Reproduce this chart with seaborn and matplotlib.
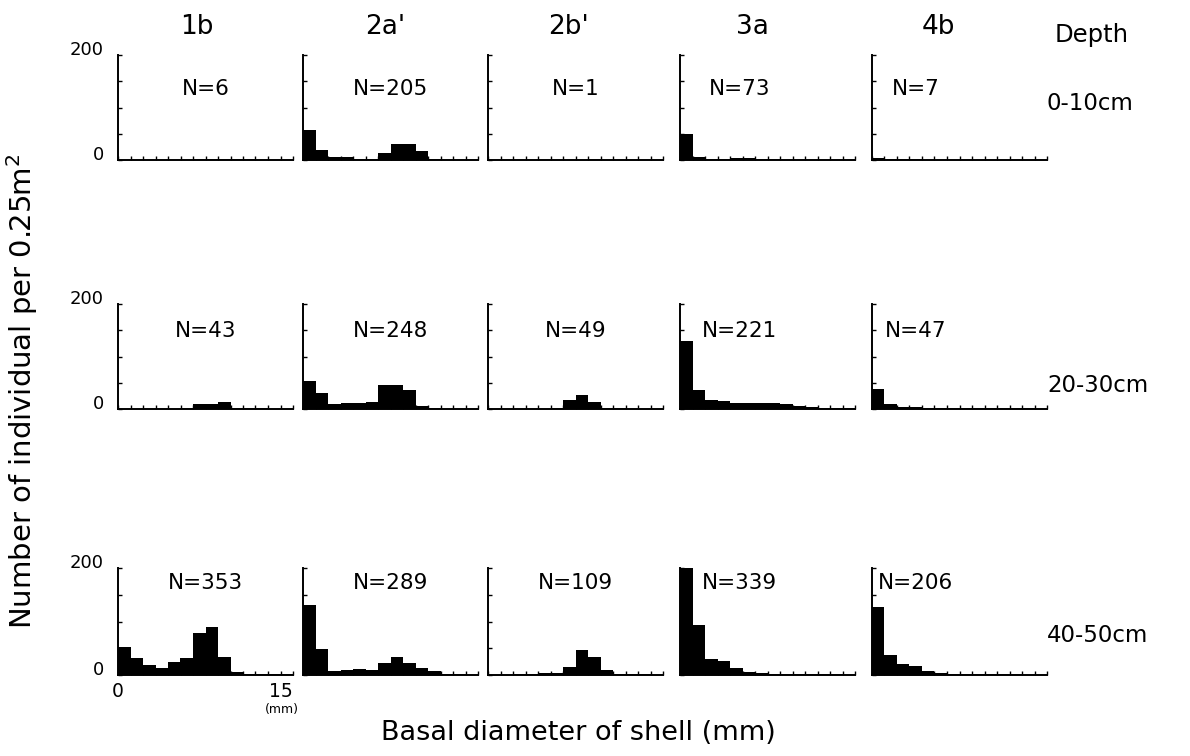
import numpy as np
import pandas as pd
import matplotlib
matplotlib.use("Agg")
import matplotlib.pyplot as plt
import seaborn as sns

# ---------------- data ----------------
sites = ["1b", "2a'", "2b'", "3a", "4b"]
depths = ["0-10cm", "20-30cm", "40-50cm"]
size_min, size_max, n_bins = 0, 15, 14   # basal diameter classes (mm)

n_0_10 = [6, 205, 1, 73, 7]
n_20_30 = [43, 248, 49, 221, 47]
n_40_50 = [353, 289, 109, 339, 206]

# individuals per 0.25 m2 in each size class
counts_0_10_1b = [0, 0, 0, 0, 0, 0, 1, 1, 1, 2, 1, 0, 0, 0]
counts_0_10_2a = [58, 19, 5, 5, 1, 1, 14, 31, 30, 18, 2, 0, 0, 0]
counts_0_10_2b = [0, 0, 0, 0, 0, 0, 0, 0, 1, 0, 0, 0, 0, 0]
counts_0_10_3a = [50, 5, 2, 2, 3, 3, 1, 1, 0, 0, 0, 0, 0, 0]
counts_0_10_4b = [3, 1, 1, 1, 0, 0, 0, 0, 0, 0, 0, 0, 0, 0]

counts_20_30_1b = [0, 0, 0, 0, 0, 1, 10, 10, 14, 2, 1, 1, 0, 0]
counts_20_30_2a = [53, 31, 10, 12, 12, 13, 45, 45, 37, 6, 1, 0, 0, 0]
counts_20_30_2b = [0, 0, 0, 0, 0, 2, 17, 27, 13, 1, 1, 0, 0, 0]
counts_20_30_3a = [130, 37, 17, 15, 11, 12, 12, 12, 9, 5, 3, 2, 2, 1]
counts_20_30_4b = [38, 9, 3, 3, 2, 2, 2, 1, 1, 1, 1, 1, 1, 0]

counts_40_50_1b = [52, 31, 18, 14, 25, 32, 79, 90, 33, 5, 2, 2, 2, 1]
counts_40_50_2a = [130, 48, 8, 9, 11, 9, 23, 33, 23, 14, 7, 2, 1, 0]
counts_40_50_2b = [0, 0, 1, 1, 4, 4, 15, 47, 34, 10, 2, 1, 1, 0]
counts_40_50_3a = [205, 94, 30, 26, 14, 5, 3, 2, 2, 1, 1, 1, 1, 0]
counts_40_50_4b = [128, 38, 20, 17, 8, 3, 2, 2, 1, 1, 1, 1, 0, 0]

rows = [
    (n_0_10, [counts_0_10_1b, counts_0_10_2a, counts_0_10_2b, counts_0_10_3a, counts_0_10_4b]),
    (n_20_30, [counts_20_30_1b, counts_20_30_2a, counts_20_30_2b, counts_20_30_3a, counts_20_30_4b]),
    (n_40_50, [counts_40_50_1b, counts_40_50_2a, counts_40_50_2b, counts_40_50_3a, counts_40_50_4b]),
]

# ---------------- style ----------------
sns.set_style("white")
plt.rcParams["font.family"] = ["DejaVu Sans"]
plt.rcParams["text.color"] = "black"
plt.rcParams["xtick.color"] = "black"
plt.rcParams["ytick.color"] = "black"
plt.rcParams["xtick.direction"] = "in"
plt.rcParams["ytick.direction"] = "in"

W, H = 1190, 756
fig = plt.figure(figsize=(W / 100, H / 100), dpi=100)

bin_w = (size_max - size_min) / n_bins
edges = np.linspace(size_min, size_max, n_bins + 1)
centers = (edges[:-1] + edges[1:]) / 2

col_left = [118, 303, 488, 680, 872]
panel_w = 175
row_base = [160, 409, 675]
row_h = [105, 105, 107]
n_x = [[0.5, 0.5, 0.5, 0.34, 0.25]] * 3
n_y = [0.68, 0.74, 0.86]

for r, (nlist, clist) in enumerate(rows):
    for c in range(5):
        ax = fig.add_axes([col_left[c] / W, 1 - row_base[r] / H,
                           panel_w / W, row_h[r] / H])
        df = pd.DataFrame({"size": centers, "count": clist[c]})
        sns.histplot(data=df, x="size", weights="count",
                     binwidth=bin_w, binrange=(size_min, size_max),
                     color="black", alpha=1, linewidth=0, ax=ax, legend=False)
        ax.set_xlim(size_min, size_max)
        ax.set_ylim(0, 200)
        ax.set_xlabel("")
        ax.set_ylabel("")
        for s in ["top", "right"]:
            ax.spines[s].set_visible(False)
        for s in ["left", "bottom"]:
            ax.spines[s].set_color("black")
            ax.spines[s].set_linewidth(1.4)
        ax.set_xticks([size_min, size_max])
        ax.set_xticks(edges, minor=True)
        ax.set_yticks([0, 200])
        ax.set_yticks([50, 100, 150], minor=True)
        ax.tick_params(which="both", direction="in", length=3, width=1,
                       color="black", bottom=True, left=True,
                       top=False, right=False)
        ax.tick_params(axis="y", labelsize=13, pad=10)
        ax.tick_params(axis="x", labelsize=13.5, pad=5)
        if c == 0:
            ax.set_yticklabels(["0", "200"])
            for lab in ax.get_yticklabels():
                lab.set_verticalalignment("baseline")
        else:
            ax.set_yticklabels([])
        if c == 0 and r == 2:
            ax.set_xticklabels([str(size_min), str(size_max)])
            ax.get_xticklabels()[1].set_horizontalalignment("right")
        else:
            ax.set_xticklabels([])
        ax.text(n_x[r][c], n_y[r], f"N={nlist[c]}", transform=ax.transAxes,
                ha="center", va="center", fontsize=15.5)

# column headers
head_x = [197, 385, 568, 752, 938]
for name, x in zip(sites, head_x):
    fig.text(x / W, 1 - 27 / H, name, ha="center", va="center", fontsize=19)

fig.text(1092 / W, 1 - 35 / H, "Depth", ha="center", va="center", fontsize=17.5)
depth_y = [104, 386, 636]
for d, y in zip(depths, depth_y):
    fig.text(1047 / W, 1 - y / H, d, ha="left", va="center", fontsize=16.5)

fig.text(282 / W, 1 - 710 / H, "(mm)", ha="center", va="center", fontsize=9)
fig.text(578 / W, 1 - 733 / H, "Basal diameter of shell (mm)",
         ha="center", va="center", fontsize=19.5)
fig.text(22 / W, 1 - 392 / H, "Number of individual per 0.25m$^2$",
         ha="center", va="center", rotation=90, fontsize=21)

fig.savefig("out.png", dpi=100, facecolor="white")
